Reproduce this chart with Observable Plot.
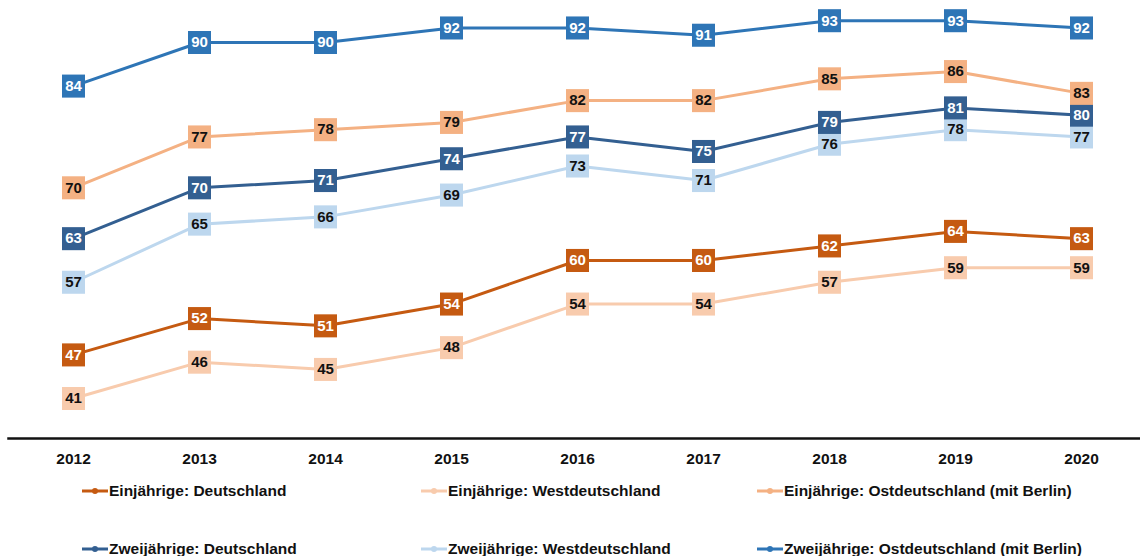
<!DOCTYPE html>
<html>
<head>
<meta charset="utf-8">
<script src="https://cdn.jsdelivr.net/npm/d3@7"></script>
<script src="https://cdn.jsdelivr.net/npm/@observablehq/plot@0.6"></script>
<style>
  body { margin: 0; background: #fff; font-family: "Liberation Sans", Arial, sans-serif; }
  #legend { position: relative; width: 1140px; height: 86px; }
  .item { position: absolute; display: flex; align-items: center; font-weight: bold; font-size: 15.5px; color: #111; height: 18px; white-space: nowrap; }
  .item svg { margin-right: 1px; }
</style>
</head>
<body>
<div id="chart"></div>
<div id="legend"></div>
<script>
const years = ["2012","2013","2014","2015","2016","2017","2018","2019","2020"];
const seriesNames = [
  "Einjährige: Deutschland",
  "Einjährige: Westdeutschland",
  "Einjährige: Ostdeutschland (mit Berlin)",
  "Zweijährige: Deutschland",
  "Zweijährige: Westdeutschland",
  "Zweijährige: Ostdeutschland (mit Berlin)"
];
const einDeutschland = [47, 52, 51, 54, 60, 60, 62, 64, 63];
const einWest        = [41, 46, 45, 48, 54, 54, 57, 59, 59];
const einOst         = [70, 77, 78, 79, 82, 82, 85, 86, 83];
const zweiDeutschland= [63, 70, 71, 74, 77, 75, 79, 81, 80];
const zweiWest       = [57, 65, 66, 69, 73, 71, 76, 78, 77];
const zweiOst        = [84, 90, 90, 92, 92, 91, 93, 93, 92];
const colors = ["#C55A11", "#F8CBAD", "#F4B183", "#335F91", "#BDD7EE", "#2E75B6"];
const textColors = ["#fff", "#111", "#111", "#fff", "#111", "#fff"];

const allValues = [einDeutschland, einWest, einOst, zweiDeutschland, zweiWest, zweiOst];
const data = [];
allValues.forEach((vals, i) => {
  vals.forEach((v, j) => data.push({series: seriesNames[i], year: years[j], value: v, idx: i}));
});

const drawOrder = [1, 0, 4, 3, 2, 5];
const marks = [Plot.frame({anchor: "bottom", stroke: "#111", strokeWidth: 2.5})];
for (const i of drawOrder) {
  const d = data.filter(r => r.idx === i);
  marks.push(Plot.line(d, {x: "year", y: "value", stroke: colors[i], strokeWidth: 3}));
}
for (const i of drawOrder) {
  const d = data.filter(r => r.idx === i);
  marks.push(Plot.dot(d, {x: "year", y: "value", symbol: "square", r: 13, fill: colors[i], stroke: null}));
  marks.push(Plot.text(d, {x: "year", y: "value", text: r => String(r.value), fill: textColors[i], fontWeight: "bold", fontSize: 15, fontFamily: "Liberation Sans, Arial, sans-serif"}));
}

const chart = Plot.plot({
  width: 1140,
  height: 470,
  marginLeft: 8,
  marginRight: 0,
  marginTop: 0,
  marginBottom: 32,
  style: {fontFamily: "Liberation Sans, Arial, sans-serif", background: "#fff"},
  x: {type: "point", domain: years, range: [72, 1082], padding: 0, axis: null},
  y: {domain: [41, 90], range: [398, 42], axis: null},
  marks: [
    ...marks,
    Plot.axisX({domain: years, tickSize: 0, tickPadding: 14, fontSize: 15.5, fontWeight: "bold", fill: "#111", label: null})
  ]
});
document.getElementById("chart").appendChild(chart);

const legendPos = [
  [82, 12], [421, 12], [757, 12],
  [82, 70], [421, 70], [757, 70]
];
const legend = document.getElementById("legend");
seriesNames.forEach((name, i) => {
  const div = document.createElement("div");
  div.className = "item";
  div.style.left = legendPos[i][0] + "px";
  div.style.top = legendPos[i][1] + "px";
  div.innerHTML = `<svg width="26" height="10"><line x1="0" x2="26" y1="5" y2="5" stroke="${colors[i]}" stroke-width="3"/><circle cx="13" cy="5" r="3" fill="${colors[i]}"/></svg><span>${name}</span>`;
  legend.appendChild(div);
});
</script>
</body>
</html>
